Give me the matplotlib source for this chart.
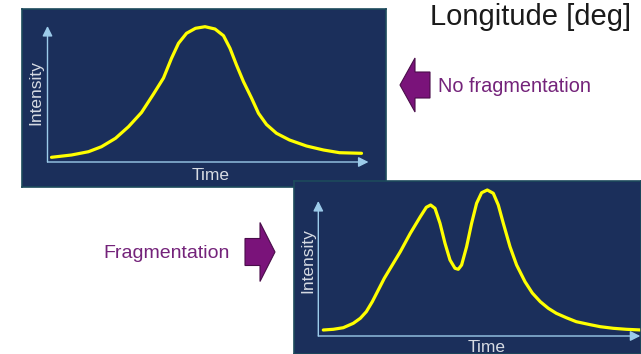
import matplotlib.pyplot as plt
from matplotlib.patches import FancyArrow

# Traced curve samples (time, intensity) in panel pixel units, origin at the axis corner
no_frag_time = [4, 24, 41, 54, 68, 81, 94, 106, 116, 124, 131, 139, 148, 157.5,
                167.5, 176, 182.5, 189, 196, 204, 211, 219, 229, 242, 259, 276,
                292, 314]
no_frag_intensity = [4.7, 7, 10.3, 15.3, 23.7, 35.3, 49.5, 68, 84, 103.7, 118.7,
                     128.7, 133.7, 135.3, 133, 126.3, 113.7, 97, 80.3, 64, 48.7,
                     37.5, 28.7, 22, 16, 12, 9.3, 8.7]

frag_time = [5, 15, 25, 35, 42, 48, 54, 60, 66, 72, 82, 92, 102, 108, 112.3, 116.7,
             121.7, 126.7, 131.7, 136.7, 140, 143.3, 148.3, 153.3, 158.3, 163.3,
             169, 175, 180, 185, 191.7, 198.3, 206.7, 214, 222, 230, 238, 248,
             258, 272, 282, 295, 308, 323]
frag_intensity = [6, 6.7, 8.3, 12.7, 17.7, 24.3, 34.3, 46, 57.7, 67.7, 84.3, 102.7,
                  119.3, 128.7, 131, 127.7, 112.7, 92.7, 76, 67.7, 66.7, 71, 89.3,
                  112.7, 132.7, 143.3, 146, 142.7, 131, 112.7, 89.3, 71, 54.3, 43,
                  34.3, 27.7, 22.7, 18.3, 14.3, 11.3, 9.3, 7.7, 6.7, 6]

W, H = 641, 354
PANEL_BG = '#1b2f5b'
AXIS_COL = '#9ccbea'
LABEL_COL = '#d6dbe3'
PURPLE = '#7a137a'
TEXT_PURPLE = '#74237a'


def add_panel(fig, rect_px, origin_px, t, y, time_label_y, int_label_x, tips):
    # rect_px = (left, top, right, bottom) in figure pixels
    left, top, right, bottom = rect_px
    ox, oy = origin_px
    ax = fig.add_axes([left / W, 1 - bottom / H, (right - left) / W, (bottom - top) / H])
    ax.set_facecolor(PANEL_BG)
    ax.set_xlim(left - ox, right - ox)
    ax.set_ylim(oy - bottom, oy - top)
    ax.set_xticks([])
    ax.set_yticks([])
    for s in ax.spines.values():
        s.set_color('#1d4a5c')
        s.set_linewidth(1.2)
    arrow = dict(arrowstyle='-|>,head_length=0.6,head_width=0.3', color=AXIS_COL,
                 lw=1, mutation_scale=10, shrinkA=0, shrinkB=0)
    ax.annotate('', xy=(tips[0], 0), xytext=(0, 0), arrowprops=arrow)
    ax.annotate('', xy=(0, tips[1]), xytext=(0, 0), arrowprops=arrow)
    ax.plot(t, y, color='#ffff00', lw=2.3, solid_capstyle='round',
            solid_joinstyle='round')
    ax.text((max(t) + min(t)) / 2 + 4, oy - time_label_y, 'Time', color=LABEL_COL,
            fontsize=12.5, family='Liberation Sans', ha='center', va='baseline')
    ax.text(int_label_x - ox, max(y) / 2 + 2, 'Intensity', color=LABEL_COL,
            fontsize=12.5, family='Liberation Sans', rotation=90,
            ha='center', va='center')
    return ax


def main():
    fig = plt.figure(figsize=(W / 100, H / 100), dpi=100)
    bg = fig.add_axes([0, 0, 1, 1])
    bg.set_xlim(0, W)
    bg.set_ylim(H, 0)
    bg.axis('off')

    add_panel(fig, (22, 9, 386, 187), (47.5, 162), no_frag_time, no_frag_intensity,
              180, 36, (321, 136))
    add_panel(fig, (294, 181, 641, 354), (318.3, 336), frag_time, frag_intensity,
              352, 308, (322, 135))

    bg.text(430, 25, 'Longitude [deg]', fontsize=21, family='Liberation Sans',
            color='#1a1a1a', va='baseline', ha='left')
    bg.text(438, 92, 'No fragmentation', fontsize=14.3, family='Liberation Sans',
            color=TEXT_PURPLE, va='baseline', ha='left')
    bg.text(103, 258, 'Fragmentation', fontsize=14, family='Liberation Sans',
            color=TEXT_PURPLE, va='baseline', ha='left')

    bg.add_patch(FancyArrow(430, 85, -30, 0, width=26, head_width=54, head_length=15,
                            length_includes_head=True, facecolor=PURPLE,
                            edgecolor='#4a0d4a', lw=0.8))
    bg.add_patch(FancyArrow(245, 252, 30, 0, width=27, head_width=59, head_length=15,
                            length_includes_head=True, facecolor=PURPLE,
                            edgecolor='#4a0d4a', lw=0.8))

    fig.savefig('out.png', dpi=100)


if __name__ == "__main__":
    main()
